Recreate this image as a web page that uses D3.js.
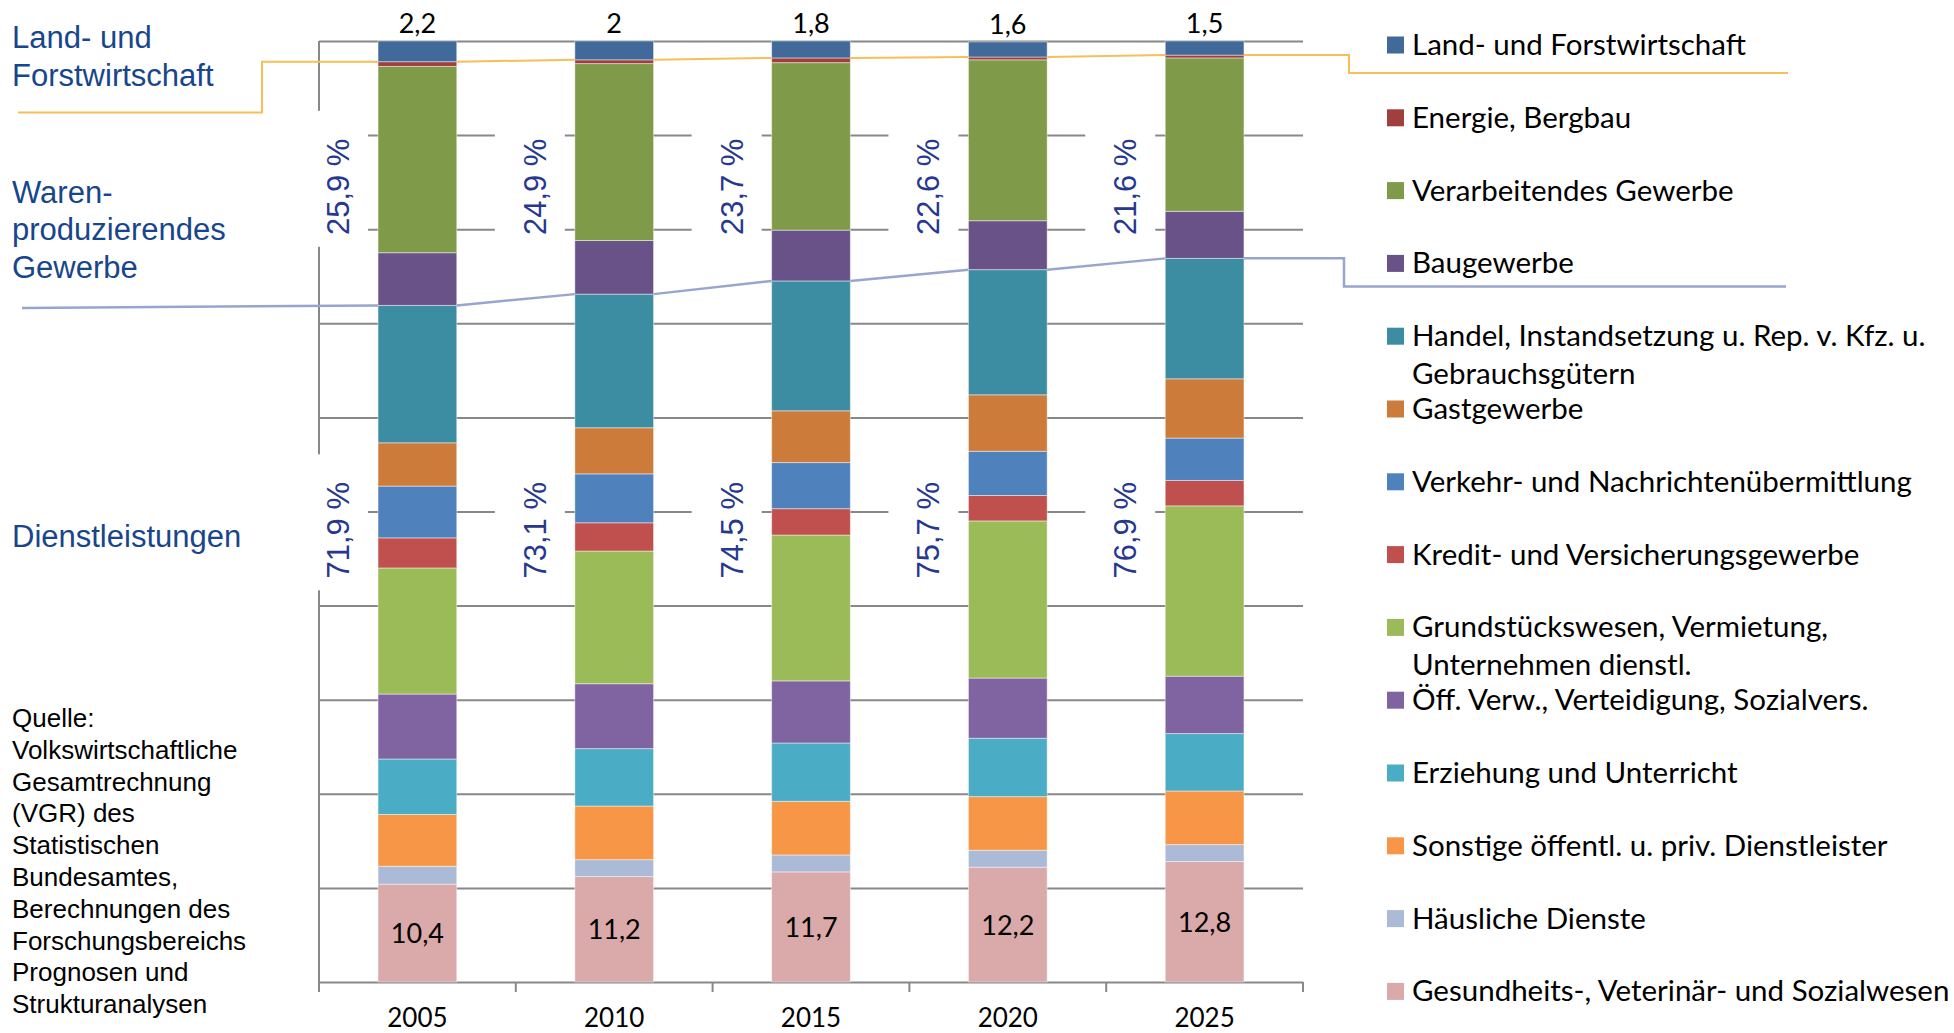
<!DOCTYPE html>
<html>
<head>
<meta charset="utf-8">
<script src="https://cdn.jsdelivr.net/npm/d3@7"></script>
<style>
  html, body { margin: 0; padding: 0; background: #fff; }
  svg { display: block; }
</style>
</head>
<body>
<svg id="chart" width="1954" height="1033"></svg>
<script>
// Gross value added shares by sector (percent), listed top-to-bottom as in the legend
const years = ["2005", "2010", "2015", "2020", "2025"];

const sectors = [
  "Land- und Forstwirtschaft",
  "Energie, Bergbau",
  "Verarbeitendes Gewerbe",
  "Baugewerbe",
  "Handel, Instandsetzung u. Rep. v. Kfz. u.\nGebrauchsgütern",
  "Gastgewerbe",
  "Verkehr- und Nachrichtenübermittlung",
  "Kredit- und Versicherungsgewerbe",
  "Grundstückswesen, Vermietung,\nUnternehmen dienstl.",
  "Öff. Verw., Verteidigung, Sozialvers.",
  "Erziehung und Unterricht",
  "Sonstige öffentl. u. priv. Dienstleister",
  "Häusliche Dienste",
  "Gesundheits-, Veterinär- und Sozialwesen"
];

const sectorColors = [
  "#41699a", "#a0403e", "#7f9a48", "#695287", "#3c8ca2", "#cc7b3a", "#4f81bd",
  "#c0504d", "#9bbb59", "#8064a2", "#4bacc6", "#f79646", "#aabad7", "#daa9a9"
];

const share2005 = [2.2, 0.5, 19.8, 5.6, 14.6, 4.6, 5.5, 3.2, 13.4, 6.9, 5.9, 5.5, 1.9, 10.4];
const share2010 = [2.0, 0.4, 18.8, 5.7, 14.2, 4.9, 5.2, 3.0, 14.1, 6.9, 6.1, 5.7, 1.8, 11.2];
const share2015 = [1.8, 0.5, 17.8, 5.4, 13.8, 5.5, 4.9, 2.8, 15.5, 6.6, 6.2, 5.7, 1.8, 11.7];
const share2020 = [1.6, 0.3, 17.1, 5.2, 13.3, 6.0, 4.7, 2.7, 16.7, 6.4, 6.2, 5.7, 1.8, 12.2];
const share2025 = [1.5, 0.3, 16.3, 5.0, 12.8, 6.3, 4.5, 2.7, 18.1, 6.1, 6.1, 5.7, 1.8, 12.8];

// Sector groups (indices into the sector list)
const groupProducing = [1, 2, 3];
const groupServices = [4, 5, 6, 7, 8, 9, 10, 11, 12, 13];

const groupTitles = [
  ["Land- und", "Forstwirtschaft"],
  ["Waren-", "produzierendes", "Gewerbe"],
  ["Dienstleistungen"]
];

const sourceLines = [
  "Quelle:", "Volkswirtschaftliche", "Gesamtrechnung", "(VGR) des", "Statistischen",
  "Bundesamtes,", "Berechnungen des", "Forschungsbereichs", "Prognosen und", "Strukturanalysen"
];

// ---------------------------------------------------------------------------
const shareByYear = [share2005, share2010, share2015, share2020, share2025];
const keys = sectors.map((s, i) => "s" + i);
const table = years.map((yr, j) => {
  const row = { year: yr };
  keys.forEach((k, i) => { row[k] = shareByYear[j][i]; });
  return row;
});
const stackKeys = keys.slice().reverse();           // bottom segment first
const stacked = d3.stack().keys(stackKeys)(table);
const byKey = {};
stacked.forEach(s => { byKey[s.key] = s; });

const fmt = v => {
  const r = Math.round(v * 10) / 10;
  return (Number.isInteger(r) ? String(r) : r.toFixed(1)).replace(".", ",");
};
const sumOf = (arr, idx) => idx.reduce((a, i) => a + arr[i], 0);

const svg = d3.select("#chart");
const plotLeft = 319, plotRight = 1303, plotTop = 41, plotBottom = 982;

const x = d3.scaleBand().domain(years).range([plotLeft, plotRight])
  .paddingInner(0.6).paddingOuter(0.3);
const y = d3.scaleLinear().domain([0, 100]).range([plotBottom, plotTop]);
const bw = x.bandwidth();

const GRID = "#888888";
const CALIBRI = "Lato, 'Open Sans', sans-serif";
const ARIAL = "'Liberation Sans', Arial, sans-serif";

// Horizontal gridlines
const grid = svg.append("g").attr("transform", `translate(${plotLeft},0)`)
  .call(d3.axisLeft(y).tickValues(d3.range(0, 101, 10)).tickSize(-(plotRight - plotLeft)).tickFormat(""));
grid.select(".domain").remove();
grid.selectAll("line").attr("stroke", GRID).attr("stroke-width", 2);

// Vertical axis line
svg.append("line").attr("x1", plotLeft).attr("x2", plotLeft).attr("y1", y(100)).attr("y2", y(0) + 10)
  .attr("stroke", GRID).attr("stroke-width", 2);

// Category axis ticks at band boundaries
const step = x.step();
svg.append("g").selectAll("line").data(d3.range(years.length + 1)).join("line")
  .attr("x1", i => plotLeft + i * step).attr("x2", i => plotLeft + i * step)
  .attr("y1", y(0)).attr("y2", y(0) + 10)
  .attr("stroke", GRID).attr("stroke-width", 2);

svg.append("g").selectAll("text").data(years).join("text")
  .attr("x", d => x(d) + bw / 2).attr("y", y(0) + 45)
  .attr("text-anchor", "middle").attr("font-family", CALIBRI).attr("font-size", 26)
  .attr("fill", "#000").text(d => d);

// Group share labels (rotated) with white backing boxes
const labelOffset = -40;
const groupLabels = [];
years.forEach((yr, j) => {
  groupLabels.push({ yr, v: sumOf(shareByYear[j], groupProducing), at: 84.5 });
  groupLabels.push({ yr, v: sumOf(shareByYear[j], groupServices), at: 48 });
});
const gl = svg.append("g");
gl.selectAll("rect").data(groupLabels).join("rect")
  .attr("x", d => x(d.yr) + labelOffset - 40)
  .attr("y", d => y(d.at) - 76)
  .attr("width", 70).attr("height", 136).attr("fill", "#fff");
gl.selectAll("text").data(groupLabels).join("text")
  .attr("transform", d => `translate(${x(d.yr) + labelOffset + 11},${y(d.at)}) rotate(-90)`)
  .attr("text-anchor", "middle").attr("font-family", ARIAL).attr("font-size", 31)
  .attr("fill", "#26388f").text(d => fmt(d.v) + " %");

// Stacked bars
svg.append("g").selectAll("g").data(stacked).join("g")
  .attr("fill", s => sectorColors[+s.key.slice(1)])
  .selectAll("rect").data(s => s).join("rect")
  .attr("x", d => x(d.data.year)).attr("width", bw)
  .attr("y", d => y(d[1])).attr("height", d => y(d[0]) - y(d[1]))
  .attr("stroke", "rgba(255,255,255,0.45)").attr("stroke-width", 1);

// Values above bars (Land- und Forstwirtschaft) and inside bottom segment (Gesundheitswesen)
const topKey = keys[0], bottomKey = keys[keys.length - 1];
svg.append("g").selectAll("text").data(byKey[topKey]).join("text")
  .attr("x", d => x(d.data.year) + bw / 2).attr("y", d => y(d[1]) - 8)
  .attr("text-anchor", "middle").attr("font-family", CALIBRI).attr("font-size", 27)
  .attr("fill", "#000").text(d => fmt(d.data[topKey]));
svg.append("g").selectAll("text").data(byKey[bottomKey]).join("text")
  .attr("x", d => x(d.data.year) + bw / 2).attr("y", d => (y(d[0]) + y(d[1])) / 2 + 10)
  .attr("text-anchor", "middle").attr("font-family", CALIBRI).attr("font-size", 27)
  .attr("fill", "#000").text(d => fmt(d.data[bottomKey]));

// Legend
const legendY = i => 45 + i * 72.8;
const lg = svg.append("g");
sectors.forEach((name, i) => {
  const cy = legendY(i);
  lg.append("rect").attr("x", 1387).attr("y", cy - 8.5).attr("width", 17).attr("height", 17)
    .attr("fill", sectorColors[i]);
  name.split("\n").forEach((line, k) => {
    lg.append("text").attr("x", 1412).attr("y", cy + 10 + k * 38)
      .attr("font-family", CALIBRI).attr("font-size", 29.5).attr("fill", "#000").text(line);
  });
});

// Connector lines tying the group titles to the stacked bars and legend
const landEdge = byKey[keys[0]].map(d => y(d[0]));
const servEdge = byKey[keys[4]].map(d => y(d[1]));
const line = d3.line();
function connector(edges, leftPts, rightPts, color, width) {
  const segs = [];
  segs.push(leftPts.concat([[x(years[0]), edges[0]]]));
  for (let j = 0; j < years.length - 1; j++) {
    segs.push([[x(years[j]) + bw, edges[j]], [x(years[j + 1]), edges[j + 1]]]);
  }
  const last = years.length - 1;
  segs.push([[x(years[last]) + bw, edges[last]]].concat(rightPts(edges[last])));
  svg.append("g").selectAll("path").data(segs).join("path")
    .attr("d", line).attr("fill", "none").attr("stroke", color).attr("stroke-width", width);
}
connector(landEdge,
  [[18, 112.5], [262, 112.5], [262, landEdge[0]]],
  e => [[1349, e], [1349, legendY(0) + 28], [1788, legendY(0) + 28]],
  "#f8bf58", 2);
connector(servEdge,
  [[22, servEdge[0] + 2.5]],
  e => [[1344, e], [1344, legendY(3) + 23], [1786, legendY(3) + 23]],
  "#97a5cf", 2.5);

// Group titles on the left
const titleBaselines = [[48, 86], [203, 240, 278], [547]];
groupTitles.forEach((lines, g) => {
  lines.forEach((t, k) => {
    svg.append("text").attr("x", 12).attr("y", titleBaselines[g][k])
      .attr("font-family", ARIAL).attr("font-size", 31).attr("fill", "#17468c").text(t);
  });
});

// Source note
svg.append("g").selectAll("text").data(sourceLines).join("text")
  .attr("x", 12).attr("y", (d, i) => 727 + i * 31.8)
  .attr("font-family", ARIAL).attr("font-size", 26).attr("fill", "#000").text(d => d);
</script>
</body>
</html>
